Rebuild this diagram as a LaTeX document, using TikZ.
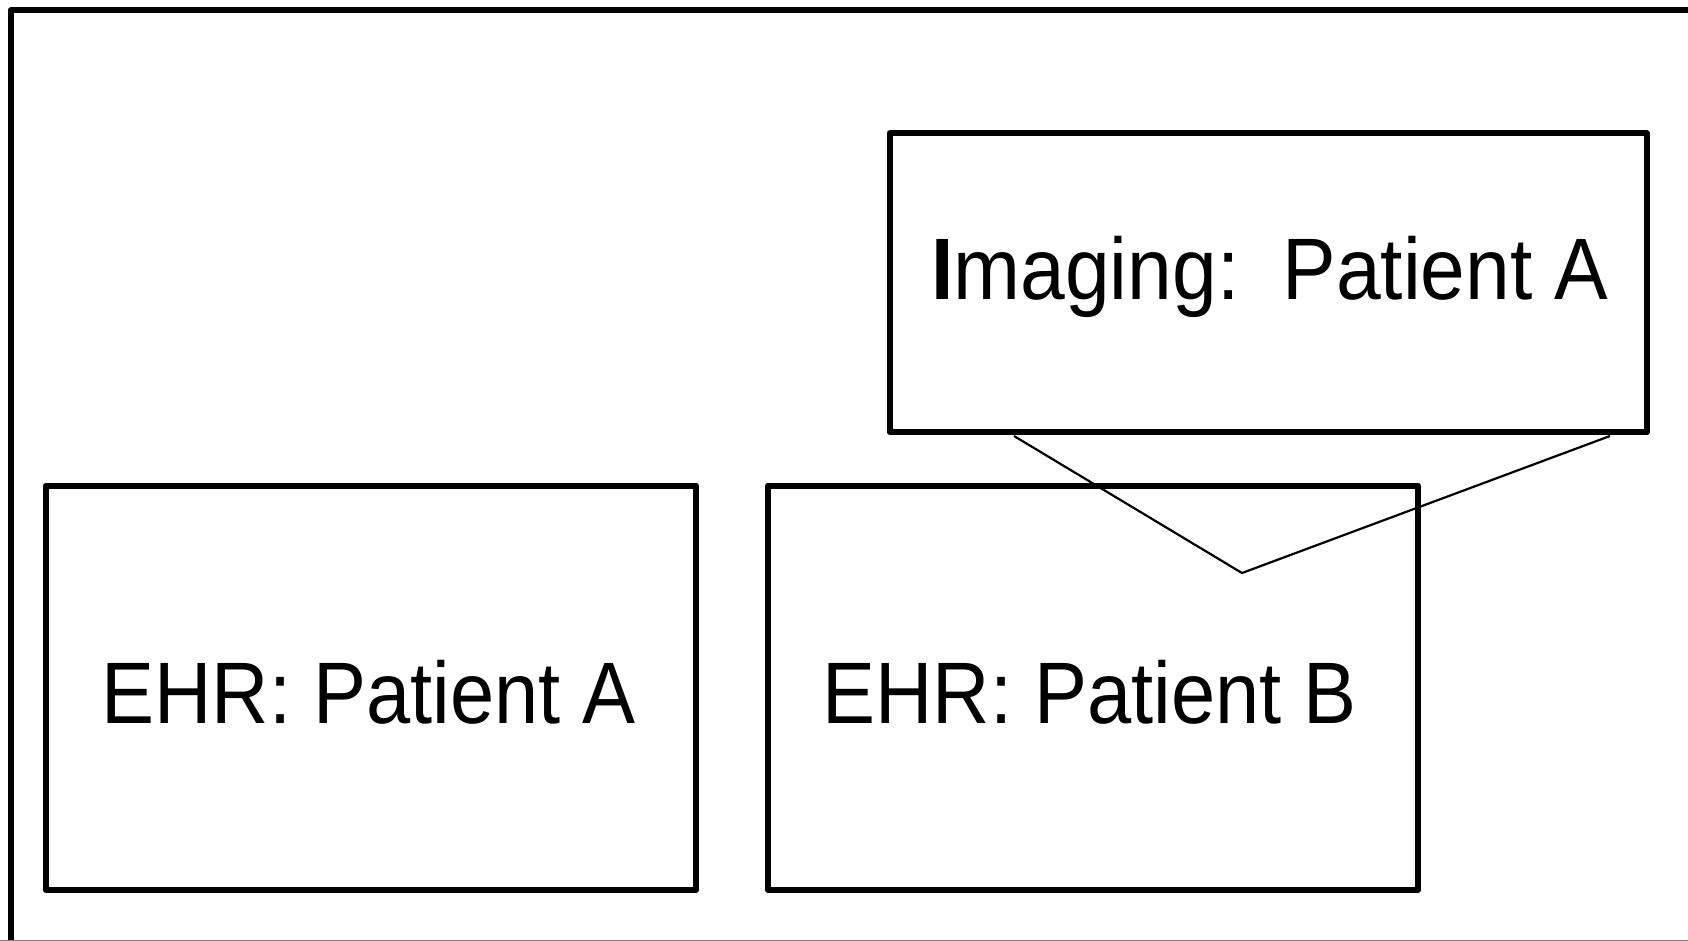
\documentclass[tikz,border=0pt]{standalone}
\usepackage{fontspec}
\setmainfont{Liberation Sans}
\usetikzlibrary{calc}
\begin{document}
\begin{tikzpicture}[x=1pt,y=-1pt,
  frame/.style={line width=6pt,line join=round,line cap=round},
  recbox/.style={draw,line width=6pt,line join=round,rectangle,inner sep=0pt},
  caption/.style={anchor=base,inner sep=0pt,font=\fontsize{87.3}{90}\selectfont},
  link/.style={line width=2.2pt,line join=miter}]
  \useasboundingbox (0,0) rectangle (1688,941);
  % outer frame, running off the right and bottom edges
  \draw[frame] (1720,10.5) -- (10.5,10.5) -- (10.5,980);
  \draw[gray,line width=1pt] (0,940.5) -- (1688,940.5);
  % record boxes
  \node[recbox,minimum width=650.5pt,minimum height=404.5pt] (ehrA) at (370.75,687.75) {};
  \node[recbox,minimum width=650pt,minimum height=404.5pt] (ehrB) at (1093,687.75) {};
  \node[recbox,fill=white,minimum width=757.5pt,minimum height=298.5pt] (img) at (1268.25,282.75) {};
  % labels
  \node[caption] (tA) at (368.7,723) {\scalebox{0.91}[1]{EHR: Patient A}};
  \node[caption] (tB) at (1089.5,723) {\scalebox{0.91}[1]{EHR: Patient B}};
  \node[caption] (tI) at (1270,299) {\scalebox{0.92}[1]{\textbf{I}maging:\, Patient A}};
  % callout pointer from the imaging box
  \coordinate (p1) at ([xshift=127.5pt,yshift=-1pt]img.south west);
  \coordinate (p2) at ([xshift=-40pt,yshift=-1pt]img.south east);
  \coordinate (v) at (1242,573);
  \draw[link] (p1) -- (v) -- (p2);
\end{tikzpicture}
\end{document}
